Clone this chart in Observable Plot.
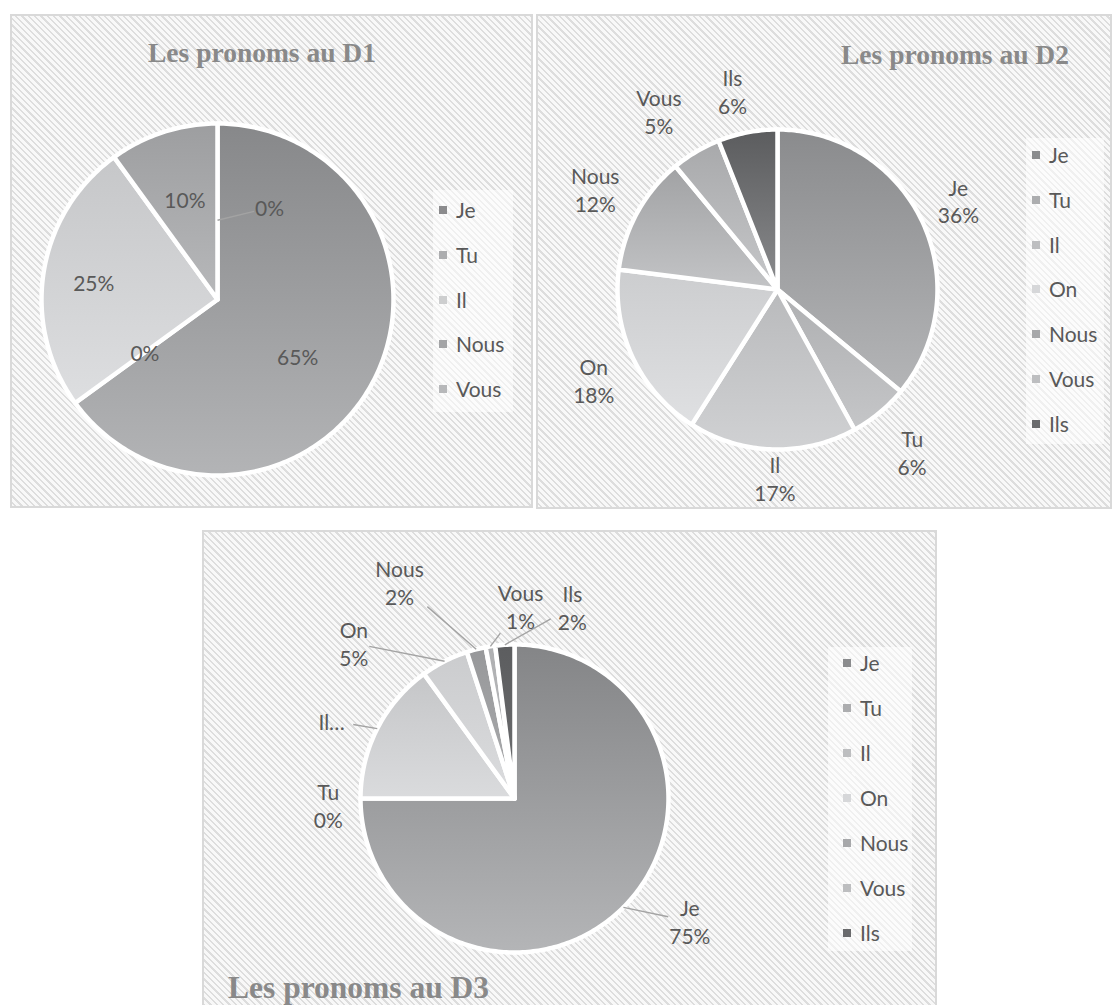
<!DOCTYPE html>
<html>
<head>
<meta charset="utf-8">
<script src="https://cdn.jsdelivr.net/npm/d3@7"></script>
<script src="https://cdn.jsdelivr.net/npm/@observablehq/plot@0.6"></script>
<style>
  html, body { margin: 0; padding: 0; background: #fff; }
  body { width: 1119px; height: 1005px; position: relative; overflow: hidden; font-family: Lato, "Open Sans", sans-serif; }
  .panel { position: absolute; background: repeating-linear-gradient(45deg, #dddddd 0 1.7px, #f8f8f8 1.7px 4.5px); }
  .frame { position: absolute; left: 0; top: 0; right: 0; bottom: 0; border: 2px solid #d9d9d9; pointer-events: none; }
  .panel svg { position: absolute; left: 0; top: 0; }
  .title { position: absolute; font-family: "Liberation Serif", "Times New Roman", serif; font-weight: bold; color: #898989; white-space: nowrap; line-height: 1; }
  .legbox { position: absolute; background: rgba(255,255,255,0.55); }
  .legrow { position: absolute; height: 24px; line-height: 24px; font-size: 21px; color: #595959; white-space: nowrap; }
  .legrow .mk { position: absolute; width: 8px; height: 8px; top: 8px; }
  .legrow .tx { position: absolute; top: 0; }
</style>
</head>
<body>
<script>
// ---------------- DATA ----------------
const d1Categories = ["Je", "Tu", "Il", "Nous", "Vous"];
const d1Values = [65, 0, 25, 10, 0];

const d2Categories = ["Je", "Tu", "Il", "On", "Nous", "Vous", "Ils"];
const d2Values = [36, 6, 17, 18, 12, 5, 6];

const d3Categories = ["Je", "Tu", "Il", "On", "Nous", "Vous", "Ils"];
const d3Values = [75, 0, 15, 5, 2, 1, 2];
const d3LabelNames = ["Je", "Tu", "Il…", "On", "Nous", "Vous", "Ils"]; // "Il" label is truncated in the original

const chartTitles = ["Les pronoms au D1", "Les pronoms au D2", "Les pronoms au D3"];

// ---------------- STYLE / LAYOUT ----------------
const FONT = "Lato, 'Open Sans', sans-serif";
const LABEL_COLOR = "#595959";

// slice gradient colours (top, bottom) and legend swatch colours
const d1Fills = { Je: ["#87888a", "#b3b4b6"], Tu: ["#acadaf", "#c2c3c5"], Il: ["#c6c7c9", "#dddee0"], Nous: ["#9d9ea0", "#b7b8ba"], Vous: ["#b0b1b3", "#c6c7c9"] };
const d1Swatch = { Je: "#8b8b8d", Tu: "#acadaf", Il: "#cdcecf", Nous: "#a3a4a6", Vous: "#b7b8ba" };
const d2Fills = { Je: ["#8a8b8d", "#b4b5b7"], Tu: ["#aeafb1", "#c5c6c8"], Il: ["#b9babc", "#d0d1d3"], On: ["#cccdcf", "#dfe0e2"], Nous: ["#a1a2a4", "#c3c4c6"], Vous: ["#a8a9ab", "#c6c7c9"], Ils: ["#5b5c5e", "#8a8b8d"] };
const d2Swatch = { Je: "#8b8c8e", Tu: "#acadaf", Il: "#bdbec0", On: "#d6d7d9", Nous: "#a7a8aa", Vous: "#bdbec0", Ils: "#6a6b6d" };
const d3Fills = { Je: ["#848587", "#b4b5b7"], Tu: ["#acadaf", "#c2c3c5"], Il: ["#c5c6c8", "#dadbdd"], On: ["#cbccce", "#dbdcde"], Nous: ["#97989a", "#abacae"], Vous: ["#aeafb1", "#bebfc1"], Ils: ["#5c5d5f", "#6c6d6f"] };
const d3Swatch = d2Swatch;

// label placement: [angle nudge from slice mid-angle (deg), distance from centre in radii]
const d1LabelNudge = { Je: [8, 0.556], Tu: [0, 0.51], Il: [-1, 0.71], Nous: [0, 0.6], Vous: [29.5, 0.6] };
const d2LabelNudge = { Je: [-1, 1.26], Tu: [0, 1.32], Il: [-1, 1.18], On: [-1, 1.28], Nous: [0, 1.3], Vous: [-3, 1.34], Ils: [-2, 1.27] };
const d3LabelNudge = { Je: [-10, 1.39], Tu: [-2, 1.21], Il: [-4, 1.29], On: [-19, 1.45], Nous: [-13.6, 1.59], Vous: [10.8, 1.25], Ils: [20.4, 1.3] };

const panels = [
  { id: "p1", left: 10, top: 14, W: 523, H: 494, cx: 207, cy: 285, r: 176,
    cats: d1Categories, vals: d1Values, names: d1Categories, withName: false,
    fills: d1Fills, swatch: d1Swatch, nudge: d1LabelNudge, leaders: ["Vous"], anchorR: 0.45,
    title: chartTitles[0], titleLeft: 138, titleTop: 25, titleSize: 27.5,
    legend: { left: 429, top: 196, step: 44.75, box: [423, 176, 80, 222] } },
  { id: "p2", left: 536, top: 14, W: 576, H: 495, cx: 241, cy: 275, r: 160,
    cats: d2Categories, vals: d2Values, names: d2Categories, withName: true,
    fills: d2Fills, swatch: d2Swatch, nudge: d2LabelNudge, leaders: [], anchorR: 1,
    title: chartTitles[1], titleLeft: 305, titleTop: 27, titleSize: 27.5,
    legend: { left: 496, top: 141, step: 44.8, box: [490, 124, 78, 306] } },
  { id: "p3", left: 202, top: 530, W: 735, H: 480, cx: 312, cy: 268, r: 154,
    cats: d3Categories, vals: d3Values, names: d3LabelNames, withName: true,
    fills: d3Fills, swatch: d3Swatch, nudge: d3LabelNudge, leaders: ["Je", "Il", "On", "Nous", "Vous", "Ils"], anchorR: 1,
    title: chartTitles[2], titleLeft: 26, titleTop: 441.5, titleSize: 31.5,
    legend: { left: 641, top: 133, step: 45, box: [626, 117, 84, 304] } }
];

// ---------------- DRAW ----------------
const rad = (deg) => deg * Math.PI / 180;

function arcPoints(a0, a1) {
  const pts = [{ x: 0, y: 0 }];
  const n = Math.max(2, Math.ceil(a1 - a0));
  for (let i = 0; i <= n; i++) {
    const a = rad(a0 + (a1 - a0) * i / n);
    pts.push({ x: Math.sin(a), y: -Math.cos(a) });
  }
  pts.push({ x: 0, y: 0 });
  return pts;
}

function buildPanel(p) {
  const div = document.createElement("div");
  div.className = "panel";
  Object.assign(div.style, { left: p.left + "px", top: p.top + "px", width: p.W + "px", height: p.H + "px" });
  document.body.appendChild(div);

  const total = d3.sum(p.vals);
  let cum = 0;
  const slices = p.cats.map((c, i) => {
    const a0 = cum / total * 360; cum += p.vals[i]; const a1 = cum / total * 360;
    return { cat: c, i, v: p.vals[i], a0, a1, mid: (a0 + a1) / 2 };
  });

  // labels
  const labels = slices.map((s, i) => {
    const [dA, dist] = p.nudge[s.cat];
    const th = rad(s.mid + dA);
    const name = p.names[i];
    const text = p.withName ? (name.endsWith("…") ? name : `${name}\n${s.v}%`) : `${s.v}%`;
    const lines = text.split("\n");
    const maxChars = d3.max(lines, l => l.length);
    return { cat: s.cat, mid: s.mid, text, x: dist * Math.sin(th), y: -dist * Math.cos(th),
             hw: (6.2 * maxChars + 3) / p.r, hh: (lines.length * 13.5) / p.r };
  });

  // leader lines: from the slice (mid-angle) to the edge of the label box
  const leaders = labels.filter(l => p.leaders.includes(l.cat)).map(l => {
    const ax = p.anchorR * Math.sin(rad(l.mid)), ay = -p.anchorR * Math.cos(rad(l.mid));
    const dx = ax - l.x, dy = ay - l.y;
    const t = Math.min(Math.abs(dx) > 1e-9 ? l.hw / Math.abs(dx) : Infinity, Math.abs(dy) > 1e-9 ? l.hh / Math.abs(dy) : Infinity, 1);
    return { x1: ax, y1: ay, x2: l.x + t * dx, y2: l.y + t * dy };
  });

  const defsMark = () => {
    const ns = "http://www.w3.org/2000/svg";
    const defs = document.createElementNS(ns, "defs");
    slices.forEach(s => {
      const g = document.createElementNS(ns, "linearGradient");
      g.setAttribute("id", `${p.id}-g${s.i}`);
      g.setAttribute("x1", "0"); g.setAttribute("y1", "0"); g.setAttribute("x2", "0"); g.setAttribute("y2", "1");
      const [c0, c1] = p.fills[s.cat];
      [[0, c0], [1, c1]].forEach(([o, c]) => {
        const st = document.createElementNS(ns, "stop");
        st.setAttribute("offset", o); st.setAttribute("stop-color", c);
        g.appendChild(st);
      });
      defs.appendChild(g);
    });
    return defs;
  };

  const sliceMarks = slices.filter(s => s.v > 0).map(s =>
    Plot.line(arcPoints(s.a0, s.a1), {
      x: "x", y: "y", fill: `url(#${p.id}-g${s.i})`, stroke: "white",
      strokeWidth: 4.5, strokeLinejoin: "round", curve: "linear"
    })
  );

  const chart = Plot.plot({
    width: p.W, height: p.H, margin: 0,
    x: { domain: [-p.cx / p.r, (p.W - p.cx) / p.r], range: [0, p.W], axis: null },
    y: { domain: [-p.cy / p.r, (p.H - p.cy) / p.r], range: [0, p.H], axis: null },
    style: { background: "transparent", overflow: "visible" },
    marks: [
      defsMark,
      ...sliceMarks,
      Plot.link(leaders, { x1: "x1", y1: "y1", x2: "x2", y2: "y2", stroke: "#a3a3a3", strokeWidth: 1.4 }),
      Plot.text(labels, { x: "x", y: "y", text: "text", fontSize: 21, fontFamily: FONT, fill: LABEL_COLOR, lineHeight: 1.32 })
    ]
  });
  div.appendChild(chart);

  // title
  const t = document.createElement("div");
  t.className = "title";
  t.textContent = p.title;
  Object.assign(t.style, { left: p.titleLeft + "px", top: p.titleTop + "px", fontSize: p.titleSize + "px" });
  div.appendChild(t);

  // legend
  const [bl, bt, bw, bh] = p.legend.box;
  const box = document.createElement("div");
  box.className = "legbox";
  Object.assign(box.style, { left: bl + "px", top: bt + "px", width: bw + "px", height: bh + "px" });
  div.appendChild(box);
  p.cats.forEach((c, i) => {
    const row = document.createElement("div");
    row.className = "legrow";
    Object.assign(row.style, { left: p.legend.left + "px", top: (p.legend.top + i * p.legend.step - 12) + "px" });
    const mk = document.createElement("span");
    mk.className = "mk"; mk.style.left = "0px"; mk.style.background = p.swatch[c];
    const tx = document.createElement("span");
    tx.className = "tx"; tx.style.left = "17px"; tx.textContent = c;
    row.appendChild(mk); row.appendChild(tx);
    div.appendChild(row);
  });

  const frame = document.createElement("div");
  frame.className = "frame";
  div.appendChild(frame);
}

panels.forEach(buildPanel);
</script>
</body>
</html>
